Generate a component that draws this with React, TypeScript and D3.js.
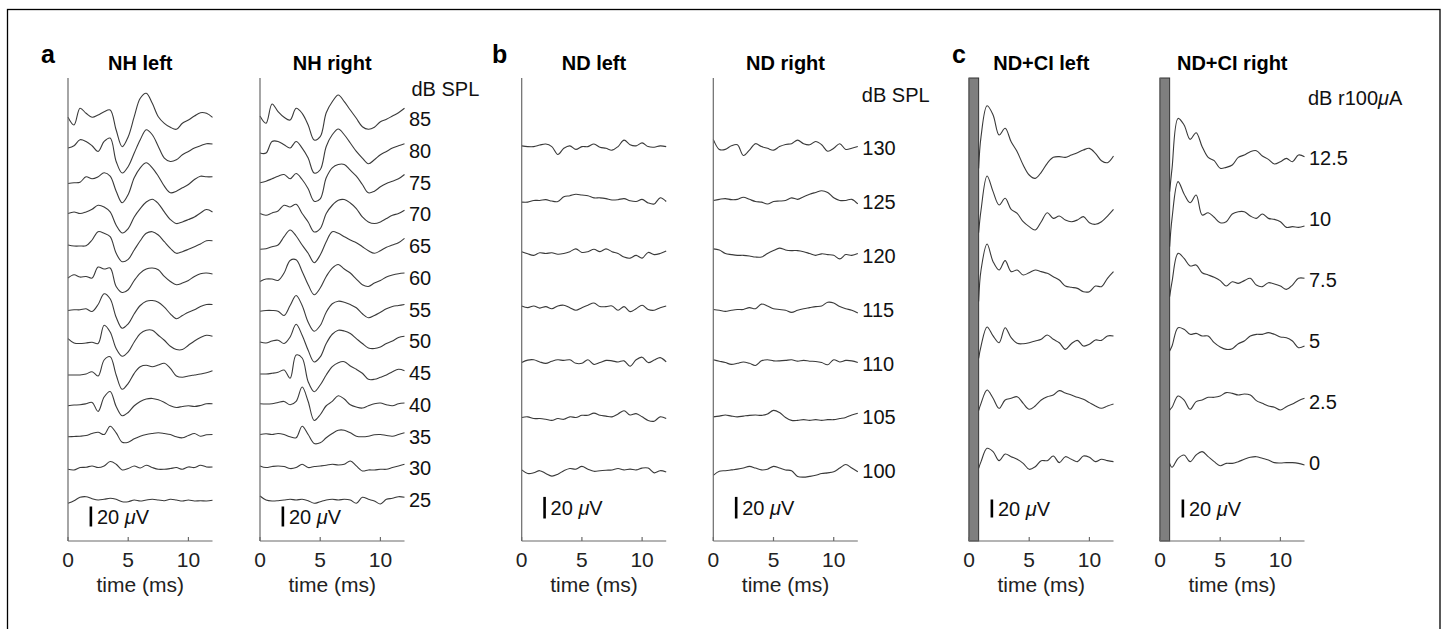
import React from 'react';
import * as d3 from 'd3';

// sample times (ms); CI traces begin after the stimulus artefact blanking
const times = [0, 0.5, 1, 1.5, 2, 2.5, 3, 3.5, 4, 4.5, 5, 5.5, 6, 6.5, 7, 7.5, 8, 8.5, 9, 9.5, 10, 10.5, 11, 11.5, 12];
const ciTimes = [0.8, 1, 1.5, 2, 2.5, 3, 3.5, 4, 4.5, 5, 5.5, 6, 6.5, 7, 7.5, 8, 8.5, 9, 9.5, 10, 10.5, 11, 11.5, 12];
const xTicks = [0, 5, 10];
const artefactEnd = 0.8;

// stimulus levels, top trace first
const nhLevels = [85, 80, 75, 70, 65, 60, 55, 50, 45, 40, 35, 30, 25];
const ndLevels = [130, 125, 120, 115, 110, 105, 100];
const ciLevels = [12.5, 10, 7.5, 5, 2.5, 0];

// ABR amplitudes in µV, one row per level
const nhLeft = [
  [1.7, -6, 10.7, 5.7, 1.7, 4, 7.3, 9, -11, -27.7, -17.7, 2.3, 20.7, 25.7, 15.7, 2.3, -4.3, -8.3, -10.3, -4.3, -1, 3, 6.3, 5.7, 1.7],
  [2.7, 5, 11, 9.3, 5, -0.7, 9.3, 12.7, -10.7, -22.3, -15.7, -2.3, 11, 21, 16, 4.3, -7.3, -10.7, -9, -4, -0.7, 2.7, 5, 7, 6.7],
  [-1, -0.3, 0.3, 5.7, 3.7, 5.7, 9.7, 6.3, -8.7, -20.3, -12, 4.7, 14.7, 19.7, 14.7, 6.3, -3.7, -10.3, -8.7, -5.3, -2, 3, 6.3, 5.7, 5.7],
  [0.7, 2.3, 0.7, 2.3, 5, 9, 7.3, 2.3, -11, -18.7, -14.3, -2.7, 5.7, 12.3, 15, 10.7, 2.3, -5.3, -9.3, -7.7, -5.3, -2.7, 1.3, 4.7, 2.3],
  [1, 0, 0, 0.3, 6, 14.3, 12.7, 9.3, -7.3, -15.7, -13.3, -4, 5.3, 12.7, 14.3, 11, 4.3, -2.3, -7.3, -5.7, -3.3, -0.7, 2, 5.3, 5.3],
  [-0.3, 3, 0.7, 1.3, -0.3, 10.7, 8.7, 9.7, -8.7, -14.7, -12, -2.7, 4.7, 8.7, 9.7, 8, 1.3, -3.7, -7, -5.3, -2.7, 1.3, 4, 4.7, 3.7],
  [-1, -0.3, -0.3, 0.7, -2, 5, 15.7, 10.7, -7.7, -18.7, -14.3, -4.3, 4, 8.3, 9, 7.3, 2.3, -4.3, -9.3, -6, -2.7, -0.3, 3, 5, 5],
  [2.7, -1.7, -2.3, -1.7, -1, -2.3, 16, 9.3, -7.3, -15, -10.7, -0.7, 7.7, 11, 11, 6, 1, -5, -8.3, -8.3, -4, 0.3, 3.7, 6, 5],
  [-2, -2, -2, -1, 1.3, -3, 13, 16.3, -2, -16.3, -10.3, -0.3, 6.3, 7.7, 6.3, 8, 9.7, 4.7, -3, -4.3, -3, -2, -1, 0.3, 2.3],
  [-1, -0.3, 0, 1, 2.3, -6.7, 7.7, 13.3, -1.7, -11, -7.7, -1, 3.3, 5.7, 6.3, 5, 2.3, -1, -2.7, -1.7, -1, -1.7, -0.7, 1, 1],
  [-0.3, 0, 0.3, 1, 3, 4.3, 2, 10.3, 3.7, -5.7, -5.7, -2.3, 0.3, 2, 3, 3.7, 3, 2, -0.3, -1.3, 1, 3, 0.3, 1.7, 2],
  [-1, -1.7, 0.7, 1, 2.3, 0.7, 2.3, 6.7, 4, -1.7, -0.3, 2.3, 0.3, 3, 0.7, -1, -1, -0.3, 0.7, -1, 1.3, 0.7, 3, 1.3, 1.3],
  [-3.3, -0.7, 2.7, 3.3, 1.3, 0, 0.7, 1.7, 0.7, -1.7, -1.7, 0, -1, 0, 0.7, 0, -0.7, 0.7, 0, -1, 0, -1, -0.7, -1, -0.3],
];

const nhRight = [
  [3, -4.3, 15, 7.3, 1.7, -1, 10.7, 5.7, -6, -21, -17.7, 6.3, 17.3, 24, 17.3, 9, 0.7, -7.7, -10.3, -8.3, -2.7, -0.3, 3, 6.3, 10.7],
  [-2.3, -2.3, 9.3, 9.3, 6, 2.7, 9.3, 2.7, -7.3, -22.3, -19, 4.3, 16, 21.7, 16, 7.7, -0.7, -7.3, -13, -9, -4, -0.7, 2.7, 5, 7],
  [-0.3, 1.3, 3.7, 6.3, 8, 3.7, 9, 3, -6.3, -18.7, -16.3, 4.7, 14.7, 18, 18, 12.3, 6.3, -2, -10.3, -8.7, -4.3, -1, 1.3, 3.7, 8],
  [0.7, -1, 1.3, 3.3, 9, 7.3, 10, 0.7, -7.7, -17.7, -14.3, 0.7, 9, 14, 14.7, 11.3, 5.7, -2.7, -7.7, -9.3, -7.7, -4.3, -1, 0.7, 4],
  [-3.3, -2.7, -0.7, 1, 9.3, 16, 10, 1, -7.3, -16.7, -9, 4.3, 14.3, 12.7, 9.3, 6, 3.3, -0.7, -4.7, -7.3, -4.7, -1.3, 1, 3.3, 7.7],
  [-3.7, -1.3, -1.3, -2.7, 4.7, 17.3, 18, 6.3, -7, -17, -10.3, 1.3, 9.7, 13.3, 8.7, 4.7, -1.3, -7, -8.7, -5.3, -2.7, 0.7, 2.7, 4, 4.7],
  [-1.7, -1, -1, -1.7, -6, 4, 14, 4, -12.7, -21.7, -16, -2.7, 5.7, 8.3, 7.3, 5, 1.7, -4.3, -8.3, -6, -2.7, 0.7, 3, 4, 5],
  [-0.7, -1.7, 0.3, 1, -2.3, 4.3, 17, 6, -9, -20.7, -15.7, -2.3, 7, 11, 10.3, 7.7, 2.7, -2.3, -6.7, -7.3, -5.7, -2.3, 0.3, 3.7, 5],
  [-1, -1, -0.3, 0.7, 3, -5.3, 18, 15, -8.7, -18.7, -12, -2, 6.3, 10.3, 11.3, 7, 3.7, -0.3, -6.3, -6.3, -4.3, -2, 1.3, 3.7, 2.3],
  [1, 0.7, 1, 2.3, 3.3, 0, 3.3, 17.7, 3.3, -15.7, -10, -1, 3.3, 9, 5.7, 0, -2.3, -3.3, -1, 1, 1.7, 0, -1, 1, 1.7],
  [2, 2.7, 2, 3, 2, -0.3, -1.3, 10.3, 2, -7, -6.3, -1.3, 3, 6.3, 6.3, 3.7, 0.3, -0.3, 0.3, 1.7, 2, 1, 0.3, 2, 3.7],
  [2.3, 0.7, 1.7, 2.3, 1.7, -0.3, 0.7, 4, 0.7, 1.7, 2.3, 3, 4, 3.3, 4, 7.3, 2.3, -2.7, -1.7, -1.7, -1, -1, 0.7, 2.3, 4],
  [4, 0, -1, -0.7, 0, 0.7, 0, 0.7, -0.7, -3.3, -1.7, 0, 0.7, 0, 0.7, 0, -3.3, 2.7, 0.7, -1, -4, 0.7, 1.7, 3.3, 2.7],
];

const ndLeft = [
  [2, 1.3, 1.3, 2.7, 3.7, 1.3, -6, -0.3, 2, -1.3, 1.3, 1.3, 3.7, 0.7, -0.3, -2, 1.3, 7.3, 3, 2, 4.7, 1.3, 0.7, 2, 1.3],
  [-0.3, -0.3, 1.3, 1.3, 2, 0.7, 0.3, 4.7, 5.7, 7, 6.3, 5.7, 3.7, 3.7, 3, 1.7, 2, 3, 1, 0.3, 2.3, -1, -2, 3.7, 0.3],
  [3.7, 1.7, 0.3, 2.7, 2, 2.7, 1.3, 2, 3.7, 6.3, 3, 3.7, 6, 3.7, 6.3, 3.7, 2, -1.3, -2.3, 0.3, -2.3, 3, 1, 2, 4.3],
  [3.3, 1.7, 3.3, 1.3, 2.7, 0.7, 3.3, 4, 1.7, -0.7, 1.7, 4, 6, 2.7, 2.7, 3.3, -0.7, 2.7, -2, 0.7, 4, 0, -0.7, 1.7, 3.3],
  [0.7, 3, 3.3, 1.3, 0, 2, 3.3, 2.7, 3.3, 0, 0, 3.3, -1, 0.7, 2.7, 2.3, 1.3, 2.3, -2.7, 3.3, 5.7, 0.7, 3, 5.3, 1.3],
  [-0.3, 0.3, -1.3, -1.3, -2, -3, -1.3, -2, 0.3, -0.3, 1.7, 1.7, 3.7, 1.7, 1, 0.3, 3, 6, 2, 3.3, 0.3, -3, -3.7, 0.3, -1.3],
  [1, -2.3, -1.7, 0.3, -2.3, -4.7, -3, 0.3, 2.3, 1.7, 4.3, 1.7, -0.3, 0.3, 0.7, 1, 2.3, 1, 1.7, 1, 2.7, 2.7, -1.7, 0.3, -1],
];

const ndRight = [
  [8, -1.3, -1.3, 2, 3, -7, -2, 4, 1.3, -0.3, -2, 1.3, 3.3, 4, 7.3, 4, 3, 6, 3, -3, -0.3, 4, -1.3, -0.3, 1.3],
  [1.3, 2.3, 3, 2, 2.3, 4.3, 2.3, 0.3, -0.3, -2, 0.3, 0.7, 1.3, 3.7, 2.3, 4.7, 7, 8.7, 10.3, 8.7, 3.7, 1.3, 1.3, 2.3, -2],
  [6.3, 5.3, 2, 1, 0.3, 0.3, -0.3, -1.3, -1.3, 2, 4.7, 7, 5.3, 4.7, 4.7, 3.7, 2, 0.3, 1.7, 1, 0.3, -3, 1, 0.3, 2],
  [0, -0.7, -1.7, -0.7, 0, 0, 1.7, 0.7, 5, 3.3, 0.7, 0, -0.7, -2.7, -0.7, 0.7, 1.7, 2.7, 3.3, 6.7, 6, 2.7, 0.7, -0.7, -3.3],
  [3.3, 2, 0.7, -1, 0, 1.3, 0, -2, 2.3, 3.3, 2.3, 2.3, 2.7, 3.3, 2, 2.7, 2, 1.7, 0.7, -1.3, 3.3, 1.3, 2.7, 2.3, 0.7],
  [0.3, 1, 2, 1, 0.3, 1, 1.7, 2, 1.7, 3, 6.3, 4.3, -0.3, -3, -3, -2.3, -3, -2.3, -3, -2.3, -2.3, -1.3, -0.3, 2, 3.7],
  [-4, -0.3, 0.3, 1, 1.7, 2.7, 4.3, 2.7, 1, 1.7, 4.3, 2.7, 1, 0.3, -5, -5.7, -5, -4, -2.3, -1.7, -0.7, 2.7, 6, 2.7, -0.7],
];

const ciLeft = [
  [-11.5, 23.7, 58, 47.8, 25.6, 33, 18, 7, -7.8, -18.9, -22.6, -15.9, -5.9, 0.7, 1.5, 0.7, 3.3, 5.9, 8.9, 10.7, 5.2, -3, -5.2, 2.2],
  [-15.2, 10, 47.8, 30.4, 15.6, 23, 10.7, 6.3, -3, -8.5, -12.2, -3, 7, 0.7, 3.3, -1.1, -3, -1.1, 2.6, -4.1, -5.9, -3, 3.3, 10.7],
  [-24, 11.1, 40, 20.4, 11.1, 21.5, 9.3, 11.1, 5.6, 8.1, 11.1, 9.3, 7.4, 3.7, 0, -6.7, -8.1, -9.3, -13, -13, -6.7, -7.4, 1.9, 9.3],
  [-19.3, -5.6, 15.6, 5.6, -1.9, 14.8, 3.7, -2.6, -3, -1.9, 0, 1.9, 6.7, 1.9, -1.9, -9.3, -3, 0.7, -5.6, -3.7, 1.1, 0.7, 5.6, 5.6],
  [-9.6, -1.5, 13.3, 4.1, -7, 2.2, 4.1, 5.9, -1.5, -8.1, -4.4, 2.2, 5.9, 7.8, 12.6, 10, 7.8, 5.2, 3, -0.7, -4.4, -7, -4.4, -2.2],
  [-5.9, 1.5, 16.3, 12.6, 2.6, 10, 7, 4.1, -0.4, -7, -4.1, 2.6, 2.6, 7.8, 0.4, 7, 4.1, 1.5, 7.8, 6.3, 1.5, 4.1, 2.6, 1.5],
];

const ciRight = [
  [-37.4, -11.5, 44, 36.7, 20.7, 28.1, 12.6, 0.7, -3, -11.5, -10.4, -7.8, 0.7, 3.3, 7, 8.1, 2.2, -1.5, -6.7, -4.1, -0.4, -4.1, 3.3, 1.5],
  [-30.7, 0.7, 41.5, 27.8, 18.1, 26.7, 4.4, 7, 1.9, -4.1, -3, 5.6, 8.1, 8.1, 3.3, 0.7, 5.6, 0.7, -0.4, -3, -9.3, -8.5, -9.3, -7.8],
  [-18.5, -1.9, 29.6, 24, 15.6, 16.7, 8.1, 5.6, 3, -0.7, -6.7, -1.9, -3.7, -0.7, 1.9, -5.6, -7.4, -3, -4.4, -6.7, -10.4, -5.6, 1.9, 1.9],
  [-11.1, -5.6, 14.8, 13, 7.4, 8.5, 5.6, 5.6, -1.9, -6.7, -9.3, -8.5, -3, 0, 5.6, 7.4, 7.4, 9.3, 7.4, 4.4, 3.7, 0, -7.4, -5.6],
  [-8.9, -5.9, 6.7, 2.2, -8.1, 0.4, 2.2, 5.2, 5.2, 6.7, 10.4, 9.6, 7.8, 8.9, 7.8, 1.5, -1.5, -4.4, -5.9, -8.9, -5.2, -2.2, 1.5, 4.1],
  [-0.4, -4.8, 5.2, 8.9, 1.5, 8.9, 12.6, 7, 1.5, -3, -0.4, -0.4, 1.5, 4.1, 6.3, 7, 5.2, 3.3, 0.4, 0, 0.4, 0.4, -0.4, -2.2],
];

const width = 1444;
const height = 629;
const axisTop = 78;
const axisBottom = 541;
const panelW = 144.5;
const font = '"Liberation Sans", Arial, Helvetica, sans-serif';
const traceColor = '#3a3a3a';
const axisColor = '#6a6a6a';

// per group: where each level's trace sits, and px per µV
const groups = {
  nh: {
    levels: nhLevels,
    y: d3.scaleLinear().domain([25, 85]).range([500, 119]),
    amp: d3.scaleLinear().domain([0, 20]).range([0, 20]),
    barBottom: 526.5,
    unit: 'dB SPL',
    unitY: 89,
    unitDx: 7,
  },
  nd: {
    levels: ndLevels,
    y: d3.scaleLinear().domain([100, 130]).range([471, 148]),
    amp: d3.scaleLinear().domain([0, 20]).range([0, 21.6]),
    barBottom: 518.5,
    unit: 'dB SPL',
    unitY: 95,
    unitDx: 4,
  },
  ci: {
    levels: ciLevels,
    y: d3.scaleLinear().domain([0, 12.5]).range([463, 158]),
    amp: d3.scaleLinear().domain([0, 20]).range([0, 18]),
    barBottom: 517.5,
    unit: 'dB r100',
    unitY: 98,
    unitDx: 3.5,
  },
};

const panels = [
  {title: 'NH left', x0: 68, group: 'nh', data: nhLeft, t: times, right: false, letter: 'a', letterX: 41},
  {title: 'NH right', x0: 260, group: 'nh', data: nhRight, t: times, right: true},
  {title: 'ND left', x0: 521.7, group: 'nd', data: ndLeft, t: times, right: false, letter: 'b', letterX: 492},
  {title: 'ND right', x0: 713.3, group: 'nd', data: ndRight, t: times, right: true},
  {title: 'ND+CI left', x0: 969, group: 'ci', data: ciLeft, t: ciTimes, right: false, letter: 'c', letterX: 952},
  {title: 'ND+CI right', x0: 1160, group: 'ci', data: ciRight, t: ciTimes, right: true},
];

function Panel({p}) {
  const g = groups[p.group];
  const x = d3.scaleLinear().domain([0, 12]).range([p.x0, p.x0 + panelW]);
  const mid = (x(0) + x(12)) / 2;
  const barX = x(1.9);
  const barTop = g.barBottom - g.amp(20);

  return (
    <g>
      {p.letter && (
        <text x={p.letterX} y={63} fontSize={25} fontWeight="bold" fill="#000">{p.letter}</text>
      )}
      <text x={mid} y={70} textAnchor="middle" fontSize={20} fontWeight="bold" fill="#000">{p.title}</text>

      {g.levels.map((lev, i) => {
        const base = g.y(lev);
        const line = d3.line<number>()
          .x((_, j) => x(p.t[j]))
          .y((d) => base - g.amp(d))
          .curve(d3.curveCatmullRom.alpha(0.5));
        return (
          <path key={lev} d={line(p.data[i]) || ''} fill="none" stroke={traceColor} strokeWidth={1.1} strokeLinejoin="round" />
        );
      })}

      {p.group === 'ci' && (
        <rect
          x={x(0)}
          y={axisTop}
          width={x(artefactEnd) - x(0)}
          height={axisBottom - axisTop}
          fill="#7f7f7f"
          stroke="#333"
          strokeWidth={1}
        />
      )}

      <line x1={x(0)} y1={axisTop} x2={x(0)} y2={axisBottom} stroke={axisColor} strokeWidth={1.2} />
      <line x1={x(0)} y1={axisBottom} x2={x(12)} y2={axisBottom} stroke={axisColor} strokeWidth={1.2} />
      {xTicks.map((tv) => (
        <g key={tv}>
          <line x1={x(tv)} y1={axisBottom} x2={x(tv)} y2={axisBottom - 4} stroke={axisColor} strokeWidth={1.2} />
          <text x={x(tv)} y={567} textAnchor="middle" fontSize={21} fill="#222">{tv}</text>
        </g>
      ))}
      <text x={mid} y={592} textAnchor="middle" fontSize={21} fill="#222">time (ms)</text>

      <line x1={barX} y1={barTop} x2={barX} y2={g.barBottom} stroke="#000" strokeWidth={2.6} />
      <text x={barX + 6} y={(barTop + g.barBottom) / 2} dy="0.36em" fontSize={20} fill="#111">
        20 <tspan fontStyle="italic">μ</tspan>V
      </text>

      {p.right && (
        <g>
          {g.levels.map((lev) => (
            <text key={lev} x={x(12) + 4.5} y={g.y(lev)} dy="0.36em" fontSize={20} fill="#111">{lev}</text>
          ))}
          <text x={x(12) + g.unitDx} y={g.unitY} dy="0.36em" fontSize={20} fill="#111">
            {g.unit}
            {p.group === 'ci' && (<><tspan fontStyle="italic">μ</tspan>A</>)}
          </text>
        </g>
      )}
    </g>
  );
}

export default function App() {
  return (
    <svg
      width={width}
      height={height}
      style={{position: 'absolute', left: 0, top: 0, background: '#fff'}}
      fontFamily={font}
    >
      <rect x={7.5} y={9.5} width={1432.5} height={640} fill="none" stroke="#000" strokeWidth={1.3} />
      {panels.map((p) => <Panel key={p.title} p={p} />)}
    </svg>
  );
}
